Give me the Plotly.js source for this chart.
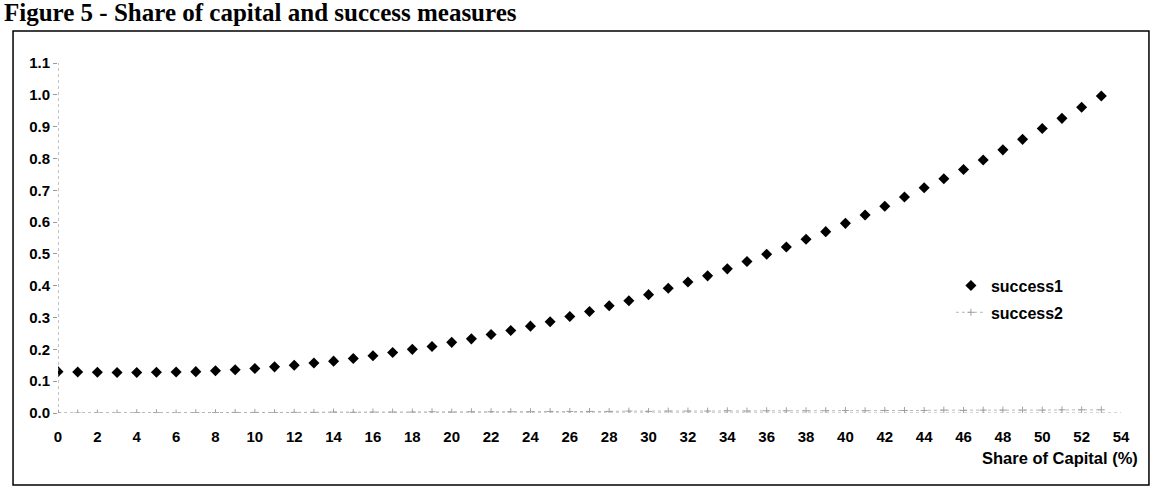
<!DOCTYPE html>
<html>
<head>
<meta charset="utf-8">
<script src="https://cdn.plot.ly/plotly-3.0.1.min.js"></script>
<style>
  html, body { margin: 0; padding: 0; background: #ffffff; }
  #chart { width: 1152px; height: 502px; }
</style>
</head>
<body>
<div id="chart"></div>
<script>
// Share of capital (%) categories
const shareOfCapital = [0,1,2,3,4,5,6,7,8,9,10,11,12,13,14,15,16,17,18,19,20,21,22,23,24,25,26,
  27,28,29,30,31,32,33,34,35,36,37,38,39,40,41,42,43,44,45,46,47,48,49,50,51,52,53];

// success1 (diamonds)
const success1 = [0.130,0.129,0.128,0.127,0.127,0.128,0.129,0.130,0.133,0.136,0.140,0.145,0.150,
  0.157,0.163,0.171,0.180,0.190,0.200,0.209,0.222,0.233,0.247,0.259,0.273,0.287,0.303,0.319,
  0.337,0.353,0.372,0.392,0.412,0.431,0.453,0.476,0.499,0.522,0.546,0.570,0.596,0.622,0.650,
  0.679,0.708,0.736,0.765,0.795,0.827,0.860,0.894,0.926,0.961,0.996];

// success2 (faint dotted series near zero)
const success2 = [0.000,0.000,0.000,0.000,0.001,0.001,0.000,0.001,0.001,0.002,0.002,0.001,0.002,
  0.002,0.003,0.002,0.003,0.003,0.003,0.004,0.003,0.004,0.004,0.004,0.004,0.005,0.005,0.005,
  0.005,0.006,0.005,0.006,0.006,0.006,0.007,0.006,0.007,0.007,0.007,0.007,0.008,0.007,0.008,
  0.008,0.008,0.009,0.008,0.009,0.009,0.009,0.009,0.010,0.010,0.010];

// tick labels
const xTickVals = [0,2,4,6,8,10,12,14,16,18,20,22,24,26,28,30,32,34,36,38,40,42,44,46,48,50,52,54];
const yTickVals = [0,0.1,0.2,0.3,0.4,0.5,0.6,0.7,0.8,0.9,1.0,1.1];

const sans = 'Liberation Sans, Arial, sans-serif';

const traces = [
  {
    x: shareOfCapital, y: success1, name: 'success1', type: 'scatter', mode: 'markers',
    legendgroup: 'g1',
    marker: { symbol: 'diamond', size: 8.5, color: '#000000' }
  },
  {
    x: shareOfCapital, y: success2, name: 'success2', type: 'scatter', mode: 'lines+markers',
    legendgroup: 'g2',
    line: { color: '#b8b8b8', width: 1, dash: 'dot' },
    marker: { symbol: 'cross-thin', size: 5, color: '#a0a0a0', line: { color: '#a0a0a0', width: 1 } }
  }
];

const layout = {
  width: 1152, height: 502,
  paper_bgcolor: '#ffffff', plot_bgcolor: '#ffffff',
  margin: { l: 58, r: 31, t: 63, b: 89 },
  title: {
    text: 'Figure 5 - Share of capital and success measures',
    x: 4 / 1152, xanchor: 'left', xref: 'container',
    y: 1 - 12 / 502, yanchor: 'middle', yref: 'container',
    font: { family: 'Liberation Serif, Times New Roman, serif', size: 25, weight: 'bold', color: '#000000' }
  },
  showlegend: true,
  legend: {
    x: 0.840, xanchor: 'left', y: 0.4126, yanchor: 'top',
    bgcolor: 'rgba(0,0,0,0)', borderwidth: 0,
    font: { family: sans, size: 16, weight: 'bold', color: '#000000' },
    traceorder: 'grouped', tracegroupgap: 3, itemwidth: 30
  },
  xaxis: {
    range: [0, 54], tickmode: 'array', tickvals: xTickVals,
    showgrid: false, zeroline: false, showline: false,
    ticks: '', ticklabelstandoff: 13,
    tickfont: { family: sans, size: 15, weight: 'bold', color: '#000000' }
  },
  yaxis: {
    range: [0, 1.1], tickmode: 'array', tickvals: yTickVals, tickformat: '.1f',
    showgrid: false, zeroline: false, showline: false,
    ticks: 'outside', ticklen: 4, tickcolor: '#999999', tickwidth: 1,
    tickfont: { family: sans, size: 15, weight: 'bold', color: '#000000' }
  },
  shapes: [
    { type: 'line', xref: 'x', yref: 'y', x0: 0, x1: 0, y0: 0, y1: 1.1,
      line: { color: '#888888', width: 1, dash: 'dot' } },
    { type: 'line', xref: 'x', yref: 'y', x0: 0, x1: 54, y0: 0, y1: 0,
      line: { color: '#aaaaaa', width: 1, dash: 'dot' } },
    { type: 'rect', xref: 'paper', yref: 'paper', x0: -0.0423, x1: 1.0263, y0: -0.2057, y1: 1.0914,
      line: { color: '#000000', width: 1.5 }, fillcolor: 'rgba(0,0,0,0)' }
  ],
  annotations: [
    { text: 'Share of Capital (%)', xref: 'paper', yref: 'paper', x: 1.0179, y: -0.1286,
      xanchor: 'right', yanchor: 'middle', showarrow: false,
      font: { family: sans, size: 16.5, weight: 'bold', color: '#000000' } }
  ]
};

Plotly.newPlot('chart', traces, layout, { displayModeBar: false, staticPlot: true });
</script>
</body>
</html>
